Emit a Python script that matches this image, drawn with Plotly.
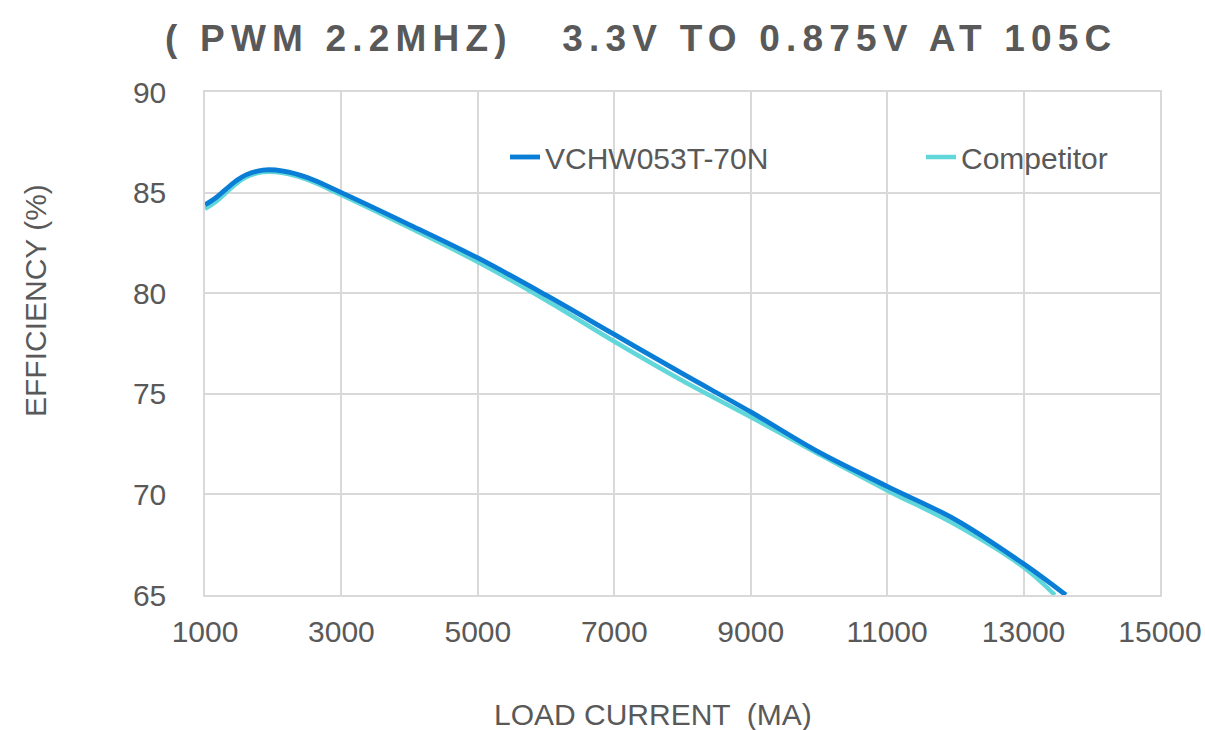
import plotly.graph_objects as go

# ---- data ----
load_vchw = [1000, 1150, 1300, 1450, 1600, 1850, 2150, 2500, 3000, 4000, 5000, 6000, 7000, 8000, 9000, 10000, 11000, 12000, 13000, 13620]
eff_vchw = [84.4, 84.72, 85.15, 85.57, 85.88, 86.12, 86.07, 85.75, 85.0, 83.4, 81.75, 79.9, 77.95, 76.0, 74.1, 72.1, 70.4, 68.75, 66.55, 65.0]

load_comp = [1000, 1150, 1300, 1450, 1600, 1850, 2150, 2500, 3000, 4000, 5000, 6000, 7000, 8000, 9000, 10000, 11000, 12000, 13000, 13460]
eff_comp = [84.2, 84.52, 84.97, 85.42, 85.76, 86.02, 85.97, 85.64, 84.88, 83.25, 81.55, 79.65, 77.6, 75.65, 73.85, 72.0, 70.2, 68.5, 66.38, 65.0]

series_names = ["VCHW053T-70N", "Competitor"]
x_ticks = [1000, 3000, 5000, 7000, 9000, 11000, 13000, 15000]
y_ticks = [65, 70, 75, 80, 85, 90]

title_text = "( PWM 2.2MHZ)   3.3V TO 0.875V AT 105C"
x_title = "LOAD CURRENT  (MA)"
y_title = "EFFICIENCY (%)"

BLUE = "#0A7DD6"
CYAN = "#62D7D9"
GREY = "#595959"
GRID = "#D9D9D9"
FONT = "Liberation Sans, Arial, sans-serif"
FS = 30

fig = go.Figure()
fig.add_trace(go.Scatter(
    x=load_comp, y=eff_comp, mode="lines", name=series_names[1],
    line=dict(color=CYAN, width=4.5, shape="spline", smoothing=1.0),
    legend="legend2",
))
fig.add_trace(go.Scatter(
    x=load_vchw, y=eff_vchw, mode="lines", name=series_names[0],
    line=dict(color=BLUE, width=4.8, shape="spline", smoothing=1.0),
    legend="legend",
))

PL, PR, PT, PB = 205, 1160, 92, 595
PW, PH = PR - PL, PB - PT

def px_x(p):
    return (p - PL) / PW

def px_y(p):
    return 1 - (p - PT) / PH

leg_common = dict(
    orientation="h", xanchor="left", yanchor="middle",
    font=dict(family=FONT, size=FS, color=GREY),
    bgcolor="rgba(0,0,0,0)", borderwidth=0,
)

fig.update_layout(
    width=1205, height=730,
    margin=dict(l=PL, r=1205 - PR, t=PT, b=730 - PB),
    paper_bgcolor="white", plot_bgcolor="white",
    font=dict(family=FONT, size=FS, color=GREY),
    title=dict(
        text="<b>" + title_text + "</b>",
        font=dict(family=FONT, size=37, color=GREY),
        x=165 / 1205, xanchor="left", xref="container",
        y=1 - 38 / 730, yanchor="middle", yref="container",
    ),
    showlegend=True,
    legend=dict(x=px_x(505), y=px_y(157), **leg_common),
    legend2=dict(x=px_x(921), y=px_y(157), **leg_common),
    xaxis=dict(
        range=[1000, 15000], tickvals=x_ticks, ticktext=[str(v) for v in x_ticks],
        showgrid=True, gridcolor=GRID, gridwidth=1.5,
        showline=True, linecolor=GRID, linewidth=1.5, mirror=True,
        zeroline=False, ticks="", ticklabelstandoff=9, automargin=False,
        tickfont=dict(family=FONT, size=FS, color=GREY),
    ),
    yaxis=dict(
        range=[65, 90], tickvals=y_ticks,
        showgrid=True, gridcolor=GRID, gridwidth=1.5,
        showline=True, linecolor=GRID, linewidth=1.5, mirror=True,
        zeroline=False, ticks="", ticklabelstandoff=31, automargin=False,
        tickfont=dict(family=FONT, size=FS, color=GREY),
    ),
    annotations=[
        dict(text=x_title, xref="paper", yref="paper",
             x=px_x(653), y=px_y(714), xanchor="center", yanchor="middle",
             showarrow=False, font=dict(family=FONT, size=FS, color=GREY)),
        dict(text=y_title, xref="paper", yref="paper",
             x=px_x(35), y=px_y(301), xanchor="center", yanchor="middle",
             textangle=-90, showarrow=False, font=dict(family=FONT, size=FS, color=GREY)),
    ],
)

post = """
document.body.style.margin = '0';
document.documentElement.style.margin = '0';
var t = document.querySelectorAll('.gtitle');
t.forEach(function(el){ el.style.letterSpacing = '6.2px'; });
"""
fig.write_html("out.html", post_script=post, config={"displayModeBar": False})
